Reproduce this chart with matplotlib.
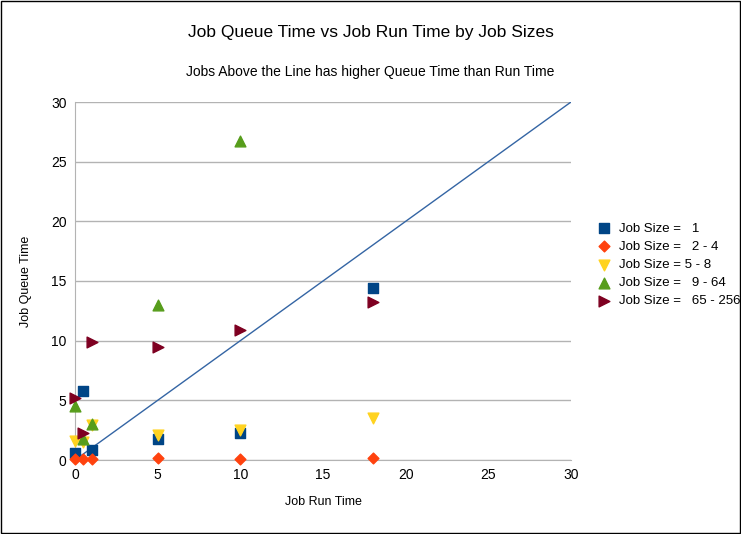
import matplotlib.pyplot as plt
from matplotlib.patches import Rectangle

plt.rcParams["font.family"] = ["Liberation Sans", "DejaVu Sans"]

run_time = [0, 0.5, 1, 5, 10, 18]
size_1 = [0.6, 5.8, 0.8, 1.8, 2.3, 14.4]
size_2_4 = [0.05, 0.05, 0.1, 0.15, 0.05, 0.15]
size_5_8 = [1.6, 1.5, 2.9, 2.1, 2.5, 3.5]
size_9_64 = [4.5, 1.8, 3.0, 13.0, 26.7]
size_65_256 = [5.2, 2.3, 9.9, 9.5, 10.9, 13.2]

fig = plt.figure(figsize=(7.41, 5.34), dpi=100)
ax = fig.add_axes([75 / 741, 1 - 460 / 534, 496 / 741, 358 / 534])
fig.patches.append(Rectangle((0.001, 0.001), 0.997, 0.997, transform=fig.transFigure,
                             fill=False, edgecolor="black", linewidth=1))

ax.plot([0, 30], [0, 30], color="#3465a4", linewidth=1, zorder=2)
kw = dict(zorder=3, clip_on=False)
ax.scatter(run_time, size_1, marker="s", color="#004586", s=60, label="Job Size =   1", **kw)
ax.scatter(run_time, size_2_4, marker="D", color="#ff420e", s=30, label="Job Size =   2 - 4", **kw)
ax.scatter(run_time, size_5_8, marker="v", color="#ffd320", s=60, label="Job Size = 5 - 8", **kw)
ax.scatter(run_time[:5], size_9_64, marker="^", color="#579d1c", s=60, label="Job Size =   9 - 64", **kw)
ax.scatter(run_time, size_65_256, marker=">", color="#7e0021", s=60, label="Job Size =   65 - 256", **kw)

ax.set_xlim(0, 30)
ax.set_ylim(0, 30)
ax.set_xticks(range(0, 31, 5))
ax.set_yticks(range(0, 31, 5))
ax.grid(axis="y", color="#b3b3b3", linewidth=1)
ax.set_axisbelow(True)
for s in ["top", "right"]:
    ax.spines[s].set_visible(False)
ax.spines["left"].set_color("#b3b3b3")
ax.spines["bottom"].set_color("#b3b3b3")
ax.tick_params(length=0, labelsize=10, pad=6)
ax.set_xlabel("Job Run Time", fontsize=9, labelpad=10)
ax.set_ylabel("Job Queue Time", fontsize=9, labelpad=14)

fig.text(0.5, 1 - 33 / 534, "Job Queue Time vs Job Run Time by Job Sizes", ha="center", va="center", fontsize=12.5)
fig.text(0.5, 1 - 72 / 534, "Jobs Above the Line has higher Queue Time than Run Time", ha="center", va="center", fontsize=10)

ax.legend(loc="center left", bbox_to_anchor=(1.03, 0.545), frameon=False, fontsize=9.5,
          handletextpad=0.1, labelspacing=0.45, borderaxespad=0)

fig.savefig("out.png", dpi=100)
